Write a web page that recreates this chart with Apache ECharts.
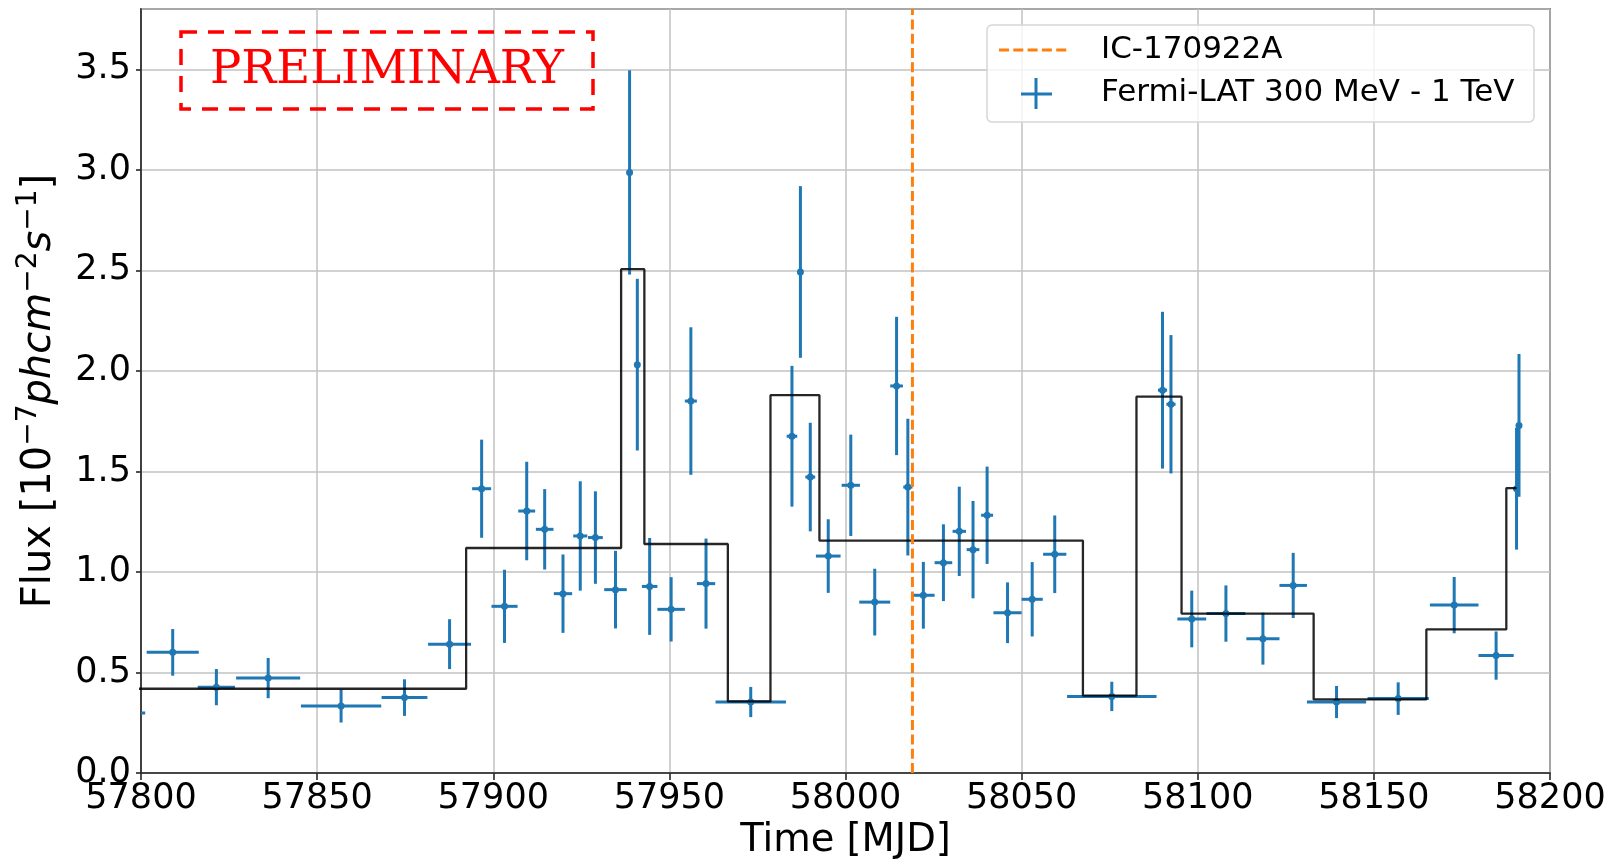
<!DOCTYPE html>
<html>
<head>
<meta charset="utf-8">
<title>Fermi-LAT light curve</title>
<script src="https://cdn.jsdelivr.net/npm/echarts@6/dist/echarts.min.js"></script>
<style>
  html, body { margin: 0; padding: 0; background: #ffffff; }
  #chart { width: 1612px; height: 861px; }
</style>
</head>
<body>
<div id="chart"></div>
<script>
// Light curve bins: centre time (MJD), half bin width (days), flux and 1-sigma error (1e-7 ph cm^-2 s^-1)
const binMJD = [
  57796.0, 57809.0, 57821.4, 57836.1, 57856.8, 57874.8, 57887.6, 57896.7, 57903.2, 57909.5,
  57914.6, 57919.8, 57924.7, 57929.0, 57934.7, 57938.7, 57940.9, 57944.4, 57950.5, 57956.1,
  57960.4, 57973.1, 57984.8, 57987.2, 57990.0, 57995.1, 58001.5, 58008.3, 58014.5, 58017.7,
  58022.1, 58027.8, 58032.3, 58036.2, 58040.2, 58046.0, 58053.0, 58059.4, 58075.6, 58090.0,
  58092.4, 58098.3, 58108.0, 58118.5, 58127.1, 58139.4, 58156.9, 58172.8, 58184.7, 58190.5,
  58191.2
];
const binHalfWidth = [
  5.2, 7.4, 5.3, 9.1, 11.4, 6.5, 6.1, 2.7, 3.7, 2.4,
  2.5, 2.6, 2.0, 2.1, 3.2, 0.5, 0.6, 2.2, 3.9, 1.7,
  2.6, 10.0, 1.5, 0.5, 1.4, 3.5, 2.6, 4.4, 1.8, 1.3,
  3.2, 2.5, 1.9, 1.8, 1.7, 4.0, 3.0, 3.3, 12.7, 1.3,
  1.3, 4.1, 5.5, 4.7, 3.9, 8.4, 8.7, 6.9, 5.0, 0.4,
  0.4
];
const binFlux = [
  0.298, 0.600, 0.427, 0.472, 0.333, 0.375, 0.641, 1.414, 0.829, 1.303,
  1.212, 0.892, 1.179, 1.171, 0.912, 2.987, 2.031, 0.928, 0.814, 1.850,
  0.942, 0.353, 1.675, 2.492, 1.472, 1.079, 1.431, 0.850, 1.925, 1.422,
  0.884, 1.046, 1.202, 1.111, 1.282, 0.797, 0.864, 1.088, 0.381, 1.904,
  1.834, 0.766, 0.793, 0.668, 0.933, 0.353, 0.370, 0.835, 0.584, 1.414,
  1.729
];
const binFluxErr = [
  0.080, 0.116, 0.090, 0.100, 0.082, 0.091, 0.124, 0.244, 0.182, 0.245,
  0.200, 0.195, 0.272, 0.230, 0.193, 0.508, 0.427, 0.241, 0.160, 0.367,
  0.224, 0.075, 0.350, 0.427, 0.270, 0.183, 0.252, 0.166, 0.344, 0.340,
  0.166, 0.191, 0.222, 0.242, 0.242, 0.151, 0.185, 0.193, 0.073, 0.390,
  0.344, 0.141, 0.140, 0.129, 0.162, 0.080, 0.081, 0.140, 0.120, 0.303,
  0.355
];

// Bayesian blocks: block edges (MJD) and the flux level of each block
const blockEdges = [
  57780.0, 57892.3, 57936.3, 57942.9, 57966.6, 57978.7, 57992.6, 58067.4,
  58082.6, 58095.4, 58132.9, 58164.9, 58187.6, 58190.5
];
const blockFlux = [
  0.419, 1.119, 2.506, 1.139, 0.356, 1.879, 1.156, 0.385, 1.872, 0.793,
  0.366, 0.714, 1.417
];

// Neutrino alert time (MJD)
const neutrinoMJD = 58019.0;

// Axis ticks
const xTicks = [57800, 57850, 57900, 57950, 58000, 58050, 58100, 58150, 58200];
const yTicks = [0.0, 0.5, 1.0, 1.5, 2.0, 2.5, 3.0, 3.5];

const BLUE = '#1f77b4';
const ORANGE = '#ff7f0e';
const FONT = 'DejaVu Sans';

const lcData = binMJD.map((t, i) => [t, binFlux[i], binHalfWidth[i], binFluxErr[i]]);
const stepData = blockFlux.map((f, i) => [blockEdges[i], f]);
stepData.push([blockEdges[blockEdges.length - 1], blockFlux[blockFlux.length - 1]]);

function renderErrorBar(params, api) {
  const t = api.value(0), f = api.value(1), hw = api.value(2), e = api.value(3);
  const l = api.coord([t - hw, f]);
  const r = api.coord([t + hw, f]);
  const top = api.coord([t, f + e]);
  const bot = api.coord([t, f - e]);
  const c = api.coord([t, f]);
  const s = { stroke: BLUE, lineWidth: 3 };
  return {
    type: 'group',
    children: [
      { type: 'line', shape: { x1: l[0], y1: l[1], x2: r[0], y2: r[1] }, style: s },
      { type: 'line', shape: { x1: top[0], y1: top[1], x2: bot[0], y2: bot[1] }, style: s },
      { type: 'circle', shape: { cx: c[0], cy: c[1], r: 3.5 }, style: { fill: BLUE } }
    ]
  };
}

const chart = echarts.init(document.getElementById('chart'), null, { renderer: 'canvas' });

const option = {
  animation: false,
  backgroundColor: '#ffffff',
  textStyle: { fontFamily: FONT },
  grid: {
    left: 141, right: 62, top: 9, bottom: 88,
    outerBoundsMode: 'none',
    containLabel: false,
    show: true, borderColor: '#262626', borderWidth: 1.6, backgroundColor: 'transparent'
  },
  xAxis: {
    type: 'value',
    min: xTicks[0],
    max: xTicks[xTicks.length - 1],
    interval: 50,
    name: 'Time [MJD]',
    nameLocation: 'middle',
    nameGap: 48,
    nameMoveOverlap: false,
    nameTextStyle: { fontSize: 38.5, color: '#000', fontFamily: FONT },
    axisLine: { show: true, onZero: false, lineStyle: { color: '#262626', width: 1.6 } },
    axisTick: { show: true, length: 7, lineStyle: { color: '#262626', width: 1.6 } },
    axisLabel: { fontSize: 35, color: '#000', margin: 8, fontFamily: FONT,
      formatter: v => String(v) },
    splitLine: { show: true, lineStyle: { color: '#c2c2c2', width: 1.5 } }
  },
  yAxis: {
    type: 'value',
    min: yTicks[0],
    max: 3.8,
    interval: 0.5,
    name: '{n|Flux [10}{s|−7}{i|phcm}{s|−2}{i|s}{s|−1}{n|]}',
    nameLocation: 'middle',
    nameGap: 77,
    nameRotate: 90,
    nameMoveOverlap: false,
    nameTextStyle: {
      color: '#000',
      rich: {
        n: { fontSize: 40, fontFamily: FONT, color: '#000', lineHeight: 49, verticalAlign: 'middle' },
        i: { fontSize: 40, fontFamily: FONT, fontStyle: 'italic', color: '#000', lineHeight: 49, verticalAlign: 'middle' },
        s: { fontSize: 28, fontFamily: FONT, color: '#000', lineHeight: 19, verticalAlign: 'top' }
      }
    },
    axisLine: { show: true, onZero: false, lineStyle: { color: '#262626', width: 1.6 } },
    axisTick: { show: true, length: 5, lineStyle: { color: '#262626', width: 1.6 } },
    axisLabel: { fontSize: 35, color: '#000', margin: 10, fontFamily: FONT,
      showMaxLabel: false, formatter: v => v.toFixed(1) },
    splitLine: { show: true, lineStyle: { color: '#c2c2c2', width: 1.5 } }
  },
  series: [
    {
      name: 'Fermi-LAT 300 MeV - 1 TeV',
      type: 'custom',
      renderItem: renderErrorBar,
      data: lcData,
      encode: { x: 0, y: 1 },
      clip: true,
      z: 2
    },
    {
      name: 'Bayesian blocks',
      type: 'line',
      step: 'end',
      data: stepData,
      symbol: 'none',
      clip: true,
      lineStyle: { color: 'rgba(0,0,0,0.85)', width: 2.3 },
      z: 3
    },
    {
      name: 'IC-170922A',
      type: 'line',
      data: [[neutrinoMJD, 0], [neutrinoMJD, 3.8]],
      symbol: 'none',
      clip: true,
      lineStyle: { color: ORANGE, width: 3, type: [10, 4.3] },
      z: 4
    }
  ],
  graphic: [
    // Preliminary stamp
    {
      type: 'rect', z: 100,
      shape: { x: 181, y: 32, width: 412, height: 77 },
      style: { fill: 'none', stroke: '#ff0000', lineWidth: 3.5, lineDash: [16, 11] }
    },
    {
      type: 'text', z: 100,
      x: 387, y: 71,
      style: { text: 'PRELIMINARY', fill: '#ff0000', font: '46.5px "DejaVu Serif"',
        textAlign: 'center', textVerticalAlign: 'middle' }
    },
    // Legend
    {
      type: 'rect', z: 100,
      shape: { x: 987, y: 25, width: 547, height: 97, r: 5 },
      style: { fill: 'rgba(255,255,255,0.8)', stroke: '#d6d6d6', lineWidth: 1.5 }
    },
    {
      type: 'line', z: 101,
      shape: { x1: 999, y1: 50, x2: 1068, y2: 50 },
      style: { stroke: ORANGE, lineWidth: 3, lineDash: [10, 4.3] }
    },
    {
      type: 'line', z: 101,
      shape: { x1: 1021, y1: 94, x2: 1052, y2: 94 },
      style: { stroke: BLUE, lineWidth: 3 }
    },
    {
      type: 'line', z: 101,
      shape: { x1: 1036, y1: 78, x2: 1036, y2: 109 },
      style: { stroke: BLUE, lineWidth: 3 }
    },
    {
      type: 'text', z: 101,
      x: 1101, y: 49.5,
      style: { text: 'IC-170922A', fill: '#000', font: '31px "DejaVu Sans"', textVerticalAlign: 'middle' }
    },
    {
      type: 'text', z: 101,
      x: 1101, y: 92.5,
      style: { text: 'Fermi-LAT 300 MeV - 1 TeV', fill: '#000', font: '31px "DejaVu Sans"', textVerticalAlign: 'middle' }
    }
  ]
};

chart.setOption(option);
</script>
</body>
</html>
